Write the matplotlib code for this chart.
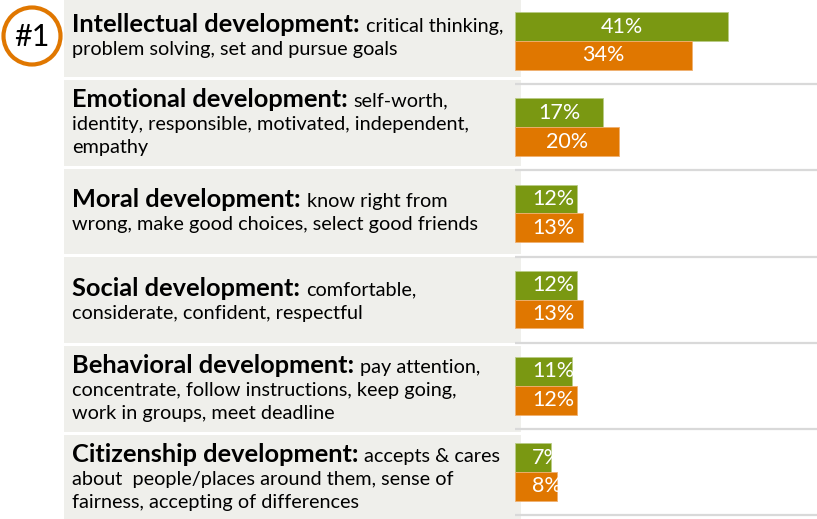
import matplotlib
matplotlib.use('Agg')
import matplotlib.pyplot as plt
from matplotlib.patches import Rectangle, Circle

plt.rcParams['font.family'] = ['Lato', 'DejaVu Sans']

# Данные
names = [
    "Intellectual development:",
    "Emotional development:",
    "Moral development:",
    "Social development:",
    "Behavioral development:",
    "Citizenship development:",
]
descriptions = [
    ["critical thinking,", "problem solving, set and pursue goals"],
    ["self-worth,", "identity, responsible, motivated, independent,", "empathy"],
    ["know right from", "wrong, make good choices, select good friends"],
    ["comfortable,", "considerate, confident, respectful"],
    ["pay attention,", "concentrate, follow instructions, keep going,",
     "work in groups, meet deadline"],
    ["accepts & cares", "about  people/places around them, sense of",
     "fairness, accepting of differences"],
]
green_values = [41, 17, 12, 12, 11, 7]
orange_values = [34, 20, 13, 13, 12, 8]
rank_label = "#1"

GREEN = '#7A9812'
ORANGE = '#E07700'
PANEL = '#EFEFEB'
RULE = '#D9D9D9'

W, H = 817, 519
fig = plt.figure(figsize=(W / 100, H / 100), dpi=100)

# Фон в пиксельных координатах: серые плашки, текст, значок
bg = fig.add_axes([0, 0, 1, 1])
bg.set_xlim(0, W)
bg.set_ylim(H, 0)
bg.axis('off')

panel_step = 88.7
first_gap = 78.5
n = len(names)
for i in range(n):
    top = -20 if i == 0 else first_gap + panel_step * (i - 1) + 1.5
    bottom = H + 20 if i == n - 1 else first_gap + panel_step * i - 1.5
    bg.add_patch(Rectangle((64, top), 521 - 64, bottom - top,
                           facecolor=PANEL, edgecolor='none', zorder=1))

# Значок "#1"
bg.add_patch(Circle((32, 36), 28.5, facecolor='white', edgecolor=ORANGE,
                    linewidth=3, zorder=3))
bg.text(32, 37, rank_label, ha='center', va='center', fontsize=22,
        color='black', zorder=4)

# Подписи категорий
line_h = 23
title_size = 18.3
desc_size = 14.3
fig.canvas.draw()
renderer = fig.canvas.get_renderer()
inv = bg.transData.inverted()
for i in range(n):
    top = first_gap + panel_step * (i - 1) if i > 0 else -6
    bottom = first_gap + panel_step * i if i < n - 1 else H + 3
    center = (top + bottom) / 2
    lines = descriptions[i]
    y0 = center - line_h * (len(lines) - 1) / 2 + 7
    t = bg.text(72, y0, names[i], fontsize=title_size, fontweight='bold',
                va='baseline', ha='left', color='black', zorder=4)
    bb = t.get_window_extent(renderer)
    x_end = inv.transform((bb.x1, bb.y0))[0]
    bg.text(x_end + 6, y0, lines[0], fontsize=desc_size, va='baseline',
            ha='left', color='black', zorder=4)
    for k, ln in enumerate(lines[1:], start=1):
        bg.text(72, y0 + line_h * k, ln, fontsize=desc_size, va='baseline',
                ha='left', color='black', zorder=4)

# Столбцы
ax = fig.add_axes([515 / W, 0, (W - 515) / W, 1])
ax.patch.set_alpha(0)
ax.axis('off')
ax.set_xlim(0, (W - 515) / 5.2)
ax.set_ylim(5 + (H - 472) / 86.2, -41 / 86.2)

bar_h = 0.335
ys = list(range(n))
for i in range(n):
    ax.axhline(i + 0.5, color=RULE, linewidth=1.6, zorder=1)

g_bars = ax.barh([y - bar_h / 2 for y in ys], green_values, height=bar_h,
                 color=GREEN, edgecolor='#B9CC86', linewidth=0.6, zorder=2)
o_bars = ax.barh([y + bar_h / 2 for y in ys], orange_values, height=bar_h,
                 color=ORANGE, edgecolor='#F0B070', linewidth=0.6, zorder=2)

for bars, vals in ((g_bars, green_values), (o_bars, orange_values)):
    for bar, v in zip(bars, vals):
        y = bar.get_y() + bar.get_height() / 2
        label = '%d%%' % v
        if v >= 15:
            txt = ax.text(v / 2, y, label, ha='center', va='center',
                          fontsize=15.5, color='white', zorder=3)
        else:
            txt = ax.text(3.3, y, label, ha='left', va='center',
                          fontsize=15.5, color='white', zorder=3)
        txt.set_clip_path(bar)

fig.savefig('out.png', dpi=100)
